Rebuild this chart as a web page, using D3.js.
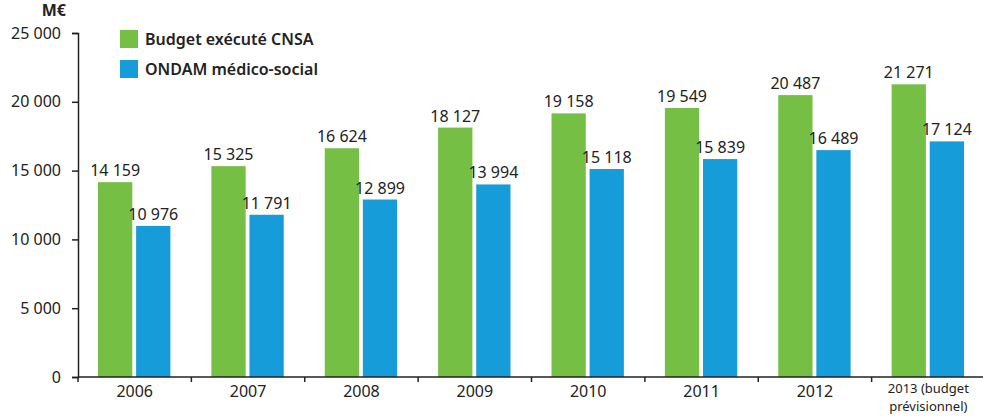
<!DOCTYPE html>
<html><head><meta charset="utf-8">
<script src="https://cdn.jsdelivr.net/npm/d3@7"></script>
<style>
body{margin:0;background:#fff;}
svg{display:block;font-family:"Noto Sans",sans-serif;}
</style></head><body>
<svg id="c" width="983" height="416"></svg>
<script>
const years = ["2006","2007","2008","2009","2010","2011","2012","2013 (budget\nprévisionnel)"];
const budgetCNSA = [14159,15325,16624,18127,19158,19549,20487,21271];
const ondamMS = [10976,11791,12899,13994,15118,15839,16489,17124];
const seriesNames = ["Budget exécuté CNSA","ONDAM médico-social"];
const yTicks = [0,5000,10000,15000,20000,25000];
const unitLabel = "M€";

const colors = ["#74bf44","#169dd9"];
const svg = d3.select("#c");
const x0 = 78, xEnd = 985, yTop = 33, yBase = 377;
const fmt = v => d3.format(",")(v).replace(/,/g," ");

const y = d3.scaleLinear().domain([0,25000]).range([yBase,yTop]);
const x = d3.scaleBand().domain(years).range([x0,xEnd]).paddingInner(0).paddingOuter(0);
const xi = d3.scaleBand().domain([0,1]).range([20, x.bandwidth()-21]).paddingInner(0.1);

// bars
const g = svg.append("g");
years.forEach((yr,i)=>{
  [budgetCNSA[i], ondamMS[i]].forEach((v,s)=>{
    g.append("rect")
      .attr("x", x(yr)+xi(s)).attr("y", y(v))
      .attr("width", xi.bandwidth()).attr("height", yBase - y(v))
      .attr("fill", colors[s]);
    g.append("text")
      .attr("x", x(yr)+xi(s)+xi.bandwidth()/2).attr("y", y(v)-6)
      .attr("text-anchor","middle").attr("font-size",16).attr("fill","#222")
      .text(fmt(v));
  });
});

// y axis
const ya = svg.append("g").attr("transform",`translate(${x0},0)`)
  .call(d3.axisLeft(y).tickValues(yTicks).tickFormat(fmt).tickSize(6).tickPadding(11));
ya.select(".domain").attr("stroke","#222").attr("stroke-width",1.5);
ya.selectAll(".tick line").attr("stroke","#222").attr("stroke-width",1.5);
ya.selectAll(".tick text").attr("font-size",16).attr("fill","#222").attr("font-family","Noto Sans");

// x axis
const xa = svg.append("g").attr("transform",`translate(0,${yBase})`);
xa.append("line").attr("x1",x0).attr("x2",983).attr("stroke","#222").attr("stroke-width",1.5);
years.forEach(yr=>{
  xa.append("line").attr("x1",x(yr)).attr("x2",x(yr)).attr("y1",0).attr("y2",5).attr("stroke","#222").attr("stroke-width",1.5);
  const lines = yr.split("\n");
  const multi = lines.length > 1;
  lines.forEach((l,k)=>{
    xa.append("text").attr("x", x(yr)+x.bandwidth()/2).attr("y", (multi ? 16 : 20) + k*18)
      .attr("text-anchor","middle").attr("font-size", multi ? 13 : 16).attr("fill","#222").text(l);
  });
});

// unit
svg.append("text").attr("x",66).attr("y",16).attr("text-anchor","end")
  .attr("font-size",16).attr("font-weight","bold").attr("fill","#222").text(unitLabel);

// legend
seriesNames.forEach((n,i)=>{
  svg.append("rect").attr("x",120).attr("y",30+i*30).attr("width",18).attr("height",18).attr("fill",colors[i]);
  svg.append("text").attr("x",145).attr("y",45+i*30).attr("font-size",16).attr("font-weight","600").attr("fill","#222").text(n);
});
</script></body></html>
